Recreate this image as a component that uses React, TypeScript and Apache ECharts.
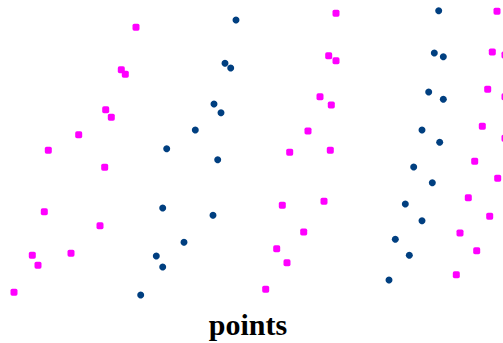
import React, { useEffect, useRef } from "react";
import * as echarts from "echarts";

// Scatter values: [x, y] (y grows downward)
const magentaA: number[][] = [
  [136, 27.3], [121.3, 69.7], [125.3, 74.3], [105.7, 109.7], [111.3, 117.3],
  [78.7, 134.7], [48.3, 150.3], [104.7, 167.3], [44.3, 211.7], [100, 225.7],
  [32.3, 255.3], [71, 253.3], [38, 265.3], [14, 292.3],
];
const blueA: number[][] = [
  [236, 20], [225, 63.3], [230.7, 68], [214, 104], [221, 112.7],
  [195.3, 130], [166.7, 148.7], [217.7, 159.7], [162.7, 208], [213, 215.3],
  [184, 242.3], [156.3, 256], [162.7, 267], [140.7, 295],
];
const magentaB: number[][] = [
  [336, 13.3], [328.7, 55.7], [336, 60.7], [320, 96.7], [331.3, 105],
  [308, 131], [289.7, 152.3], [330.3, 150.3], [282.3, 205.3], [324, 201.3],
  [303.7, 232], [276.7, 248.7], [287, 262.7], [265.7, 289.3],
];
const blueB: number[][] = [
  [438.7, 10.7], [434.3, 53], [443.3, 56.7], [428.7, 92], [443.3, 99.3],
  [422, 130], [439.7, 142.3], [413.7, 167], [432.3, 182.7], [405.3, 204],
  [422, 220.7], [395.3, 239.3], [409.3, 255.3], [389, 280],
];
const magentaC: number[][] = [
  [497, 11.3], [492.3, 52], [505, 55], [487.7, 89.3], [505, 96.7],
  [482.3, 126.3], [505, 138.3], [474.7, 161.3], [497.7, 178.3], [468.3, 197.7],
  [489.7, 216.3], [460, 233], [476.7, 250.7], [456.3, 274.7],
];
const xLabel = "points";

const MAGENTA = "#ff00ff";
const BLUE = "#003f80";

export default function App() {
  const ref = useRef<HTMLDivElement>(null);
  useEffect(() => {
    document.body.style.margin = "0";
    const chart = echarts.init(ref.current!, undefined, { renderer: "svg" });
    const mk = (data: number[][], color: string, symbol: string) => ({
      type: "scatter",
      data,
      symbol,
      symbolSize: 7,
      clip: false,
      itemStyle: { color, opacity: 1 },
      silent: true,
    });
    chart.setOption({
      animation: false,
      grid: { left: 0, right: 0, top: 0, bottom: 0, containLabel: false },
      xAxis: { type: "value", min: 0, max: 503, show: false },
      yAxis: { type: "value", min: 0, max: 343, inverse: true, show: false },
      series: [
        mk(magentaA, MAGENTA, "roundRect"),
        mk(blueA, BLUE, "circle"),
        mk(magentaB, MAGENTA, "roundRect"),
        mk(blueB, BLUE, "circle"),
        mk(magentaC, MAGENTA, "roundRect"),
      ],
      graphic: [
        {
          type: "text",
          x: 248,
          y: 324,
          style: {
            text: xLabel,
            fill: "#000",
            font: "bold 30px 'Liberation Serif', 'Times New Roman', serif",
            textAlign: "center",
            textVerticalAlign: "middle",
          },
        },
      ],
    });
    return () => chart.dispose();
  }, []);
  return (
    <div
      ref={ref}
      style={{ position: "absolute", left: 0, top: 0, width: 503, height: 343 }}
    />
  );
}
